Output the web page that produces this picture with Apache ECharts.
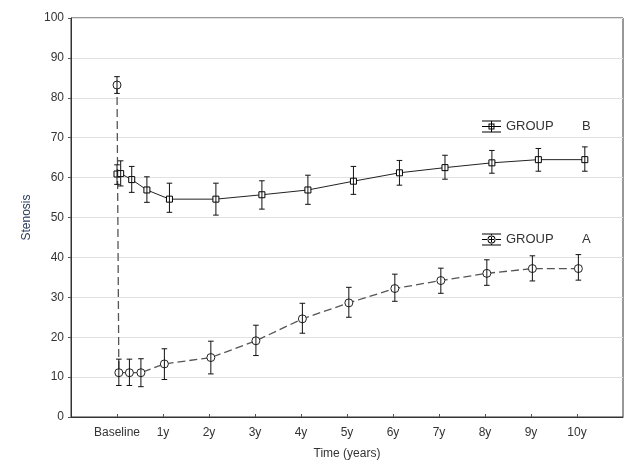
<!DOCTYPE html>
<html>
<head>
<meta charset="utf-8">
<script src="https://cdn.jsdelivr.net/npm/echarts@6/dist/echarts.min.js"></script>
<style>
html,body{margin:0;padding:0;background:#fff;}
#chart{width:627px;height:463px;}
</style>
</head>
<body>
<div id="chart"></div>
<script>
// Tick labels for the time axis (value 0 = Baseline, 1..10 = years)
const tickValues = [0, 1, 2, 3, 4, 5, 6, 7, 8, 9, 10];
const tickLabels = ['Baseline', '1y', '2y', '3y', '4y', '5y', '6y', '7y', '8y', '9y', '10y'];

// GROUP B (solid line, square markers)
const groupB_x    = [0.0, 0.08, 0.32, 0.65, 1.14, 2.15, 3.15, 4.15, 5.14, 6.14, 7.13, 8.15, 9.16, 10.17];
const groupB_mean = [60.9, 61.0, 59.5, 56.9, 54.6, 54.6, 55.7, 56.9, 59.1, 61.2, 62.5, 63.7, 64.5, 64.5];
const groupB_low  = [58.3, 57.9, 56.3, 53.8, 51.3, 50.6, 52.1, 53.3, 55.8, 58.1, 59.6, 61.1, 61.6, 61.6];
const groupB_high = [63.2, 64.2, 62.8, 60.2, 58.6, 58.6, 59.2, 60.6, 62.8, 64.3, 65.6, 66.8, 67.3, 67.7];

// GROUP A (dashed line, circle markers)
const groupA_x    = [0.0, 0.04, 0.27, 0.52, 1.03, 2.04, 3.02, 4.03, 5.04, 6.04, 7.04, 8.04, 9.03, 10.03];
const groupA_mean = [83.2, 11.1, 11.1, 11.1, 13.3, 14.9, 19.1, 24.6, 28.6, 32.2, 34.2, 36.0, 37.2, 37.2];
const groupA_low  = [81.1, 7.9, 7.9, 7.6, 9.4, 10.8, 15.4, 21.0, 25.0, 29.0, 31.0, 33.0, 34.1, 34.3];
const groupA_high = [85.3, 14.5, 14.5, 14.6, 17.1, 19.0, 23.0, 28.5, 32.5, 35.8, 37.3, 39.4, 40.4, 40.7];

const FONT = "'Liberation Sans', Arial, sans-serif";

function pairs(xs, ys) { return xs.map((x, i) => [x, ys[i]]); }
function triples(xs, lo, hi) { return xs.map((x, i) => [x, lo[i], hi[i]]); }

function errorBarRender(params, api) {
  const x = api.value(0), lo = api.value(1), hi = api.value(2);
  const t = api.coord([x, hi]);
  const b = api.coord([x, lo]);
  const w = 2.8;
  const st = { stroke: '#111', lineWidth: 1 };
  return {
    type: 'group',
    children: [
      { type: 'line', shape: { x1: t[0], y1: t[1], x2: b[0], y2: b[1] }, style: st },
      { type: 'line', shape: { x1: t[0] - w, y1: t[1], x2: t[0] + w, y2: t[1] }, style: st },
      { type: 'line', shape: { x1: b[0] - w, y1: b[1], x2: b[0] + w, y2: b[1] }, style: st }
    ]
  };
}

const iconB = 'path://M0,0H19V1H0Z M0,11H19V12H0Z M0,5.5H19V6.5H0Z M9,0H10V12H9Z M6.5,3H12.5V9H6.5Z M7.5,4V8H11.5V4Z';
const iconA = 'path://M0,0H19V1H0Z M0,11H19V12H0Z M0,5.5H19V6.5H0Z M9,0H10V12H9Z M5.5,6A4,4 0 1,0 13.5,6A4,4 0 1,0 5.5,6Z M6.5,6A3,3 0 1,1 12.5,6A3,3 0 1,1 6.5,6Z';

function legendCfg(name, icon, top) {
  return {
    data: [name],
    left: 477,
    top: top,
    icon: icon,
    itemWidth: 19,
    itemHeight: 12,
    itemStyle: { color: '#000', borderWidth: 0 },
    formatter: n => '{g|GROUP}{l|' + n.slice(-1) + '}',
    textStyle: {
      fontFamily: FONT, fontSize: 13, color: '#333',
      rich: {
        g: { width: 76, fontFamily: FONT, fontSize: 13, color: '#333' },
        l: { fontFamily: FONT, fontSize: 13, color: '#333' }
      }
    }
  };
}

const chart = echarts.init(document.getElementById('chart'), null, { renderer: 'canvas' });
chart.setOption({
  animation: false,
  backgroundColor: '#fff',
  grid: {
    left: 71, right: 4, top: 18, bottom: 46,
    outerBoundsMode: 'none', containLabel: false,
    show: true, borderColor: '#333', borderWidth: 1
  },
  legend: [
    legendCfg('GROUP B', iconB, 115),
    legendCfg('GROUP A', iconA, 228)
  ],
  xAxis: {
    type: 'value',
    min: -1, max: 11, interval: 1,
    name: 'Time (years)',
    nameLocation: 'middle',
    nameGap: 31,
    nameTextStyle: { fontFamily: FONT, fontSize: 12, color: '#333' },
    axisLine: { show: true, onZero: false, lineStyle: { color: '#333', width: 1 } },
    axisTick: { show: true, inside: true, length: 3, lineStyle: { color: '#555' } },
    splitLine: { show: false },
    axisLabel: {
      margin: 10,
      fontFamily: FONT, fontSize: 12, color: '#333',
      showMinLabel: false, showMaxLabel: false,
      formatter: v => {
        const i = tickValues.indexOf(Math.round(v));
        return (i >= 0 && Math.abs(v - tickValues[i]) < 1e-6) ? tickLabels[i] : '';
      }
    }
  },
  yAxis: {
    type: 'value',
    min: 0, max: 100, interval: 10,
    name: 'Stenosis',
    nameLocation: 'middle',
    nameGap: 37,
    nameTextStyle: { fontFamily: FONT, fontSize: 12, color: '#2b3a5c' },
    axisLine: { show: true, onZero: false, lineStyle: { color: '#333', width: 1 } },
    axisTick: { show: true, inside: false, length: 3, lineStyle: { color: '#555' } },
    splitLine: { show: true, lineStyle: { color: '#e2e2e2', width: 1 } },
    axisLabel: { margin: 7, fontFamily: FONT, fontSize: 12, color: '#333' }
  },
  series: [
    {
      name: 'GROUP B',
      type: 'line',
      data: pairs(groupB_x, groupB_mean),
      symbol: 'rect',
      symbolSize: 6,
      showAllSymbol: true,
      lineStyle: { color: '#222', width: 1, type: 'solid' },
      itemStyle: { color: '#fff', borderColor: '#000', borderWidth: 1 },
      z: 2
    },
    {
      name: 'GROUP A',
      type: 'line',
      data: pairs(groupA_x, groupA_mean),
      symbol: 'circle',
      symbolSize: 8,
      showAllSymbol: true,
      lineStyle: { color: '#555', width: 1.3, type: [8, 4] },
      itemStyle: { color: '#fff', borderColor: '#222', borderWidth: 1 },
      z: 2
    },
    {
      name: 'errB',
      type: 'custom',
      renderItem: errorBarRender,
      data: triples(groupB_x, groupB_low, groupB_high),
      encode: { x: 0, y: [1, 2] },
      z: 3
    },
    {
      name: 'errA',
      type: 'custom',
      renderItem: errorBarRender,
      data: triples(groupA_x, groupA_low, groupA_high),
      encode: { x: 0, y: [1, 2] },
      z: 3
    }
  ]
});
</script>
</body>
</html>
